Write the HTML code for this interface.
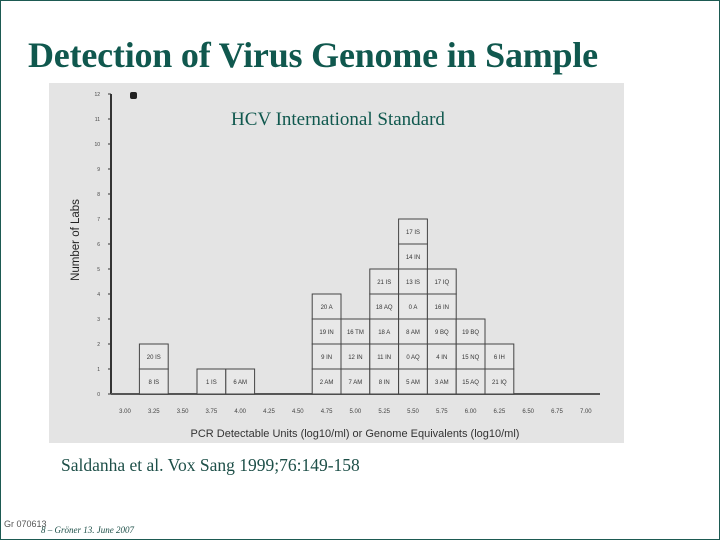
<!DOCTYPE html>
<html><head><meta charset="utf-8"><style>
html,body{margin:0;padding:0;}
body{width:720px;height:540px;position:relative;background:#fff;overflow:hidden;font-family:"Liberation Serif",serif;}
#frame{position:absolute;left:0;top:0;width:718px;height:538px;border:1px solid #1d5a52;}
#title{position:absolute;left:28px;top:34px;font-size:36px;font-weight:bold;color:#10584e;white-space:nowrap;letter-spacing:-0.2px;}
#panel{position:absolute;left:49px;top:83px;width:575px;height:360px;background:#e4e4e4;}
#cite{position:absolute;left:61px;top:455px;font-size:17.5px;color:#1d4f48;}
#f1{position:absolute;left:4px;top:519px;font-size:9px;color:#555;font-family:"Liberation Sans",sans-serif;}
#f2{position:absolute;left:41px;top:525px;font-size:9px;color:#1d4f48;font-style:italic;}
</style></head><body>
<div id="frame"></div>
<div id="title">Detection of Virus Genome in Sample</div>
<div id="panel">
<svg id="chart" width="575" height="360"></svg>
</div>
<div id="cite">Saldanha et al. Vox Sang 1999;76:149-158</div>
<div id="f1">Gr 070613</div>
<div id="f2">8 – Gröner 13. June 2007</div>
<script>
const categories = ["3.00","3.25","3.50","3.75","4.00","4.25","4.50","4.75","5.00","5.25","5.50","5.75","6.00","6.25","6.50","6.75","7.00"];
const stacks = [[],["8 IS","20 IS"],[],["1 IS"],["6 AM"],[],[],
 ["2 AM","9 IN","19 IN","20 A"],["7 AM","12 IN","16 TM"],
 ["8 IN","11 IN","18 A","18 AQ","21 IS"],
 ["5 AM","0 AQ","8 AM","0 A","13 IS","14 IN","17 IS"],
 ["3 AM","4 IN","9 BQ","16 IN","17 IQ"],
 ["15 AQ","15 NQ","19 BQ"],["21 IQ","6 IH"],[],[],[]];
const yTicks = [0,1,2,3,4,5,6,7,8,9,10,11,12];
const svg = document.getElementById('chart');
const NS = 'http://www.w3.org/2000/svg';
const ox = 49, oy = 83;
const y = v => 394 - oy - v*25;
const xc = i => 125 - ox + i*28.8;
function mk(t, a, txt){const e=document.createElementNS(NS,t);for(const k in a)e.setAttribute(k,a[k]);if(txt!==undefined)e.textContent=txt;svg.appendChild(e);return e;}
let e = mk('line',{x1:111-ox,y1:y(12),x2:111-ox,y2:y(0),stroke:'#333','stroke-width':2});


e = mk('line',{x1:111-ox,y1:y(0),x2:600-ox,y2:y(0),stroke:'#555','stroke-width':2});


yTicks.forEach(v=>{
 e = mk('text',{x:100-ox,y:y(v)+2,'font-size':5,'text-anchor':'end',fill:'#444','font-family':'Liberation Sans,sans-serif'},String(v));
 
 
 mk('line',{x1:108-ox,y1:y(v),x2:111-ox,y2:y(v),stroke:'#333','stroke-width':1});
});
categories.forEach((c,i)=>{
 e = mk('text',{x:xc(i),y:413-oy,'font-size':6,'text-anchor':'middle',fill:'#444','font-family':'Liberation Sans,sans-serif'},c);
 
 
 stacks[i].forEach((lab,j)=>{
  e = mk('rect',{x:xc(i)-14.4,y:y(j+1),width:28.8,height:25,fill:'#e8e8e8',stroke:'#444','stroke-width':1});
  
  
  e = mk('text',{x:xc(i),y:y(j)-10,'font-size':6,'text-anchor':'middle',fill:'#333','font-family':'Liberation Sans,sans-serif'},lab);
  
  
 });
});
e = mk('text',{x:355-ox,y:437-oy,'font-size':11,'text-anchor':'middle',fill:'#333','font-family':'Liberation Sans,sans-serif'},'PCR Detectable Units (log10/ml) or Genome Equivalents (log10/ml)');


e = mk('text',{x:0,y:0,'font-size':11.5,'text-anchor':'middle',fill:'#222','font-family':'Liberation Sans,sans-serif',transform:`translate(${79-ox},${240-oy}) rotate(-90)`},'Number of Labs');


e = mk('text',{x:338-ox,y:125-oy,'font-size':19,'text-anchor':'middle',fill:'#10584e','font-family':'Liberation Serif,serif'},'HCV International Standard');


e = mk('rect',{x:130-ox,y:92-oy,width:7,height:7,rx:2,fill:'#222'});


</script>
</body></html>
